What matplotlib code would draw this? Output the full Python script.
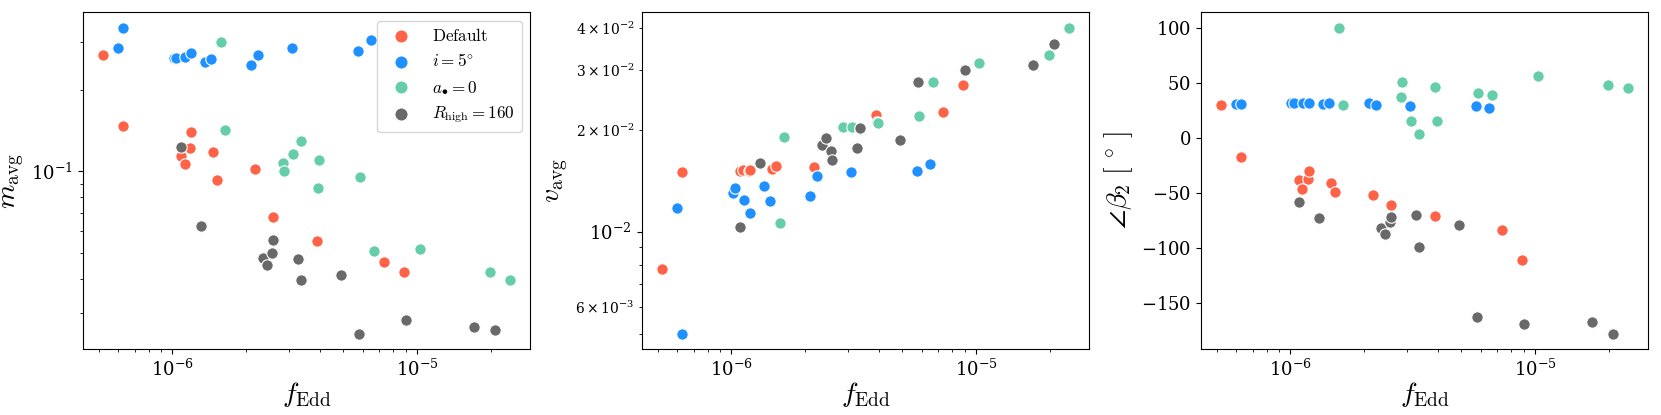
import numpy as np
import matplotlib
matplotlib.use('Agg')
import matplotlib.pyplot as plt

plt.rcParams['mathtext.fontset'] = 'cm'
plt.rcParams['font.family'] = 'serif'
plt.rcParams['font.serif'] = ['DejaVu Serif']
plt.rcParams['axes.formatter.use_mathtext'] = True

# Default
f_default = [5.2e-7, 6.25e-7, 1.08e-6, 1.12e-6, 1.18e-6, 1.19e-6, 1.47e-6, 1.52e-6, 2.18e-6, 2.57e-6, 3.9e-6, 7.35e-6, 8.87e-6]
m_default = [0.270, 0.147, 0.114, 0.106, 0.122, 0.140, 0.118, 0.0931, 0.102, 0.0679, 0.0552, 0.0463, 0.0423]
v_default = [0.00774, 0.01504, 0.0151, 0.0152, 0.0151, 0.0152, 0.01533, 0.01563, 0.01549, 0.0163, 0.02216, 0.0226, 0.0271]
b_default = [29.7, -17.9, -38.8, -46.4, -37.9, -30.0, -41.5, -49.4, -52.4, -60.9, -70.9, -84.2, -111.2]

# i = 5 deg
f_incl = [6.0e-7, 6.25e-7, 1.01e-6, 1.035e-6, 1.13e-6, 1.19e-6, 1.36e-6, 1.435e-6, 2.09e-6, 2.245e-6, 3.09e-6, 5.73e-6, 6.48e-6]
m_incl = [0.2865, 0.3396, 0.2614, 0.262, 0.2652, 0.273, 0.254, 0.259, 0.246, 0.268, 0.285, 0.279, 0.305]
v_incl = [0.01175, 0.0050, 0.01298, 0.01346, 0.0124, 0.01133, 0.01364, 0.01235, 0.0127, 0.01463, 0.01497, 0.0151, 0.0158]
b_incl = [30.6, 30.6, 31.5, 31.2, 31.5, 31.5, 30.6, 31.8, 31.8, 29.7, 28.5, 29.1, 27.3]

# a = 0
f_spin = [1.585e-6, 1.645e-6, 2.84e-6, 2.87e-6, 3.11e-6, 3.35e-6, 3.92e-6, 3.97e-6, 5.86e-6, 6.66e-6, 1.03e-5, 1.985e-5, 2.40e-5]
m_spin = [0.3006, 0.1415, 0.1071, 0.1003, 0.1156, 0.1299, 0.0870, 0.1105, 0.0950, 0.0508, 0.0517, 0.0423, 0.0397]
v_spin = [0.01061, 0.0190, 0.02032, 0.0203, 0.0204, 0.0201, 0.02112, 0.0209, 0.0219, 0.02773, 0.0314, 0.0332, 0.0400]
b_spin = [100.0, 29.4, 37.0, 50.3, 14.8, 3.3, 45.8, 15.2, 40.9, 38.8, 55.8, 47.9, 44.8]

# R_high = 160
f_rhigh = [1.085e-6, 1.31e-6, 2.34e-6, 2.43e-6, 2.55e-6, 2.57e-6, 3.25e-6, 3.36e-6, 4.88e-6, 5.78e-6, 9.0e-6, 1.71e-5, 2.09e-5]
m_rhigh = [0.1227, 0.0627, 0.0479, 0.0449, 0.0500, 0.0558, 0.0474, 0.0397, 0.0412, 0.0251, 0.0282, 0.0266, 0.0258]
v_rhigh = [0.01032, 0.0159, 0.01803, 0.0189, 0.01734, 0.01624, 0.01766, 0.02019, 0.01869, 0.02767, 0.02994, 0.03105, 0.0359]
b_rhigh = [-57.9, -73.3, -82.1, -87.6, -76.1, -71.8, -70.0, -99.4, -79.1, -162.4, -168.8, -167.0, -177.9]

labels = [r'$\mathrm{Default}$', r'$i=5^{\circ}$', r'$a_{\bullet}=0$', r'$R_{\rm high}=160$']
colors = ['tomato', 'dodgerblue', 'mediumaquamarine', 'dimgray']
groups = [
    (f_default, m_default, v_default, b_default),
    (f_incl, m_incl, v_incl, b_incl),
    (f_spin, m_spin, v_spin, b_spin),
    (f_rhigh, m_rhigh, v_rhigh, b_rhigh),
]

fig, axes = plt.subplots(1, 3, figsize=(16.61, 4.15), dpi=100)
fig.subplots_adjust(left=0.0498, right=0.9923, top=0.9704, bottom=0.159, wspace=0.249)

ylabels = [r'$m_{\rm avg}$', r'$v_{\rm avg}$', r'$\angle \beta_2\ [\ ^{\circ}\ ]$']
for k, ax in enumerate(axes):
    for (f, m, v, b), lab, c in zip(groups, labels, colors):
        y = [m, v, b][k]
        ax.scatter(f, y, s=68, color=c, edgecolors='white', linewidths=0.8, label=lab, zorder=2)
    ax.set_xscale('log')
    if k < 2:
        ax.set_yscale('log')
    ax.set_xlabel(r'$f_{\rm Edd}$', fontsize=20, labelpad=0)
    ax.set_ylabel(ylabels[k], fontsize=20)
    ax.tick_params(labelsize=13)

axes[0].legend(loc='upper right', fontsize=12.3, markerscale=1.15)

plt.savefig('out.png', dpi=100)
